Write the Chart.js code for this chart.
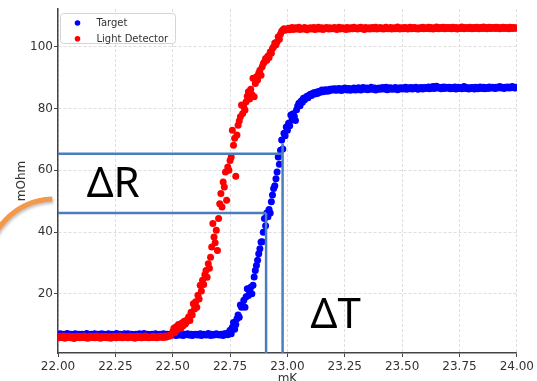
<!DOCTYPE html>
<html>
<head>
<meta charset="utf-8">
<script src="https://cdn.jsdelivr.net/npm/chart.js@4.4.1/dist/chart.umd.min.js"></script>
<style>
  html, body { margin: 0; padding: 0; background: #fff; }
  canvas { display: block; }
</style>
</head>
<body>
<canvas id="chart" width="537" height="381"></canvas>
<script>
// Temperature sweep: samples every 5 µK starting at 22.000 mK
const xStart = 22.0;
const xStep = 0.005;

const xTicks = [22.00, 22.25, 22.50, 22.75, 23.00, 23.25, 23.50, 23.75, 24.00];
const yTicks = [20, 40, 60, 80, 100];

// Target resistance (mOhm), one row per 0.1 mK
const target = [
  6.9, 6.6, 7.1, 6.8, 6.5, 7.0, 6.7, 6.9, 7.2, 6.6, 6.8, 7.0, 6.5, 6.9, 6.7, 7.1, 6.8, 6.6, 7.0, 6.9,
  6.7, 7.0, 6.8, 6.5, 6.9, 7.2, 6.7, 6.8, 6.6, 7.0, 6.9, 6.7, 7.1, 6.6, 6.8, 7.0, 6.5, 6.9, 7.1, 6.8,
  7.0, 6.7, 6.9, 6.6, 7.1, 6.8, 6.5, 7.0, 6.8, 6.9, 6.6, 7.2, 6.8, 6.7, 7.0, 6.9, 6.6, 6.8, 7.1, 6.7,
  6.8, 7.1, 6.6, 6.9, 7.0, 6.7, 6.8, 6.5, 7.0, 6.9, 6.7, 7.1, 6.8, 6.6, 6.9, 7.2, 6.7, 6.8, 7.0, 6.6,
  6.9, 6.7, 7.0, 6.8, 6.6, 7.1, 6.9, 6.7, 6.8, 7.0, 6.5, 6.9, 7.1, 6.8, 6.7, 7.0, 6.6, 6.9, 6.8, 7.1,
  6.7, 6.9, 7.0, 6.6, 6.8, 7.2, 6.7, 6.9, 6.8, 6.6, 7.0, 6.8, 6.9, 7.1, 6.7, 6.8, 7.0, 6.6, 6.9, 6.8,
  7.0, 6.8, 6.7, 6.9, 7.1, 6.6, 6.8, 7.0, 6.9, 6.7, 6.8, 7.2, 6.9, 6.6, 7.0, 6.8, 6.7, 6.9, 7.1, 6.8,
  6.9, 6.7, 7.0, 6.8, 6.6, 7.1, 6.9, 7.2, 6.8, 7.6, 8.3, 7.1, 9.2, 10.8, 8.6, 10.1, 12.0, 13.2, 12.5, 16.4,
  15.7, 16.3, 18.0, 15.7, 19.1, 21.7, 19.5, 21.0, 22.2, 20.1, 22.8, 25.5, 27.6, 29.2, 30.9, 33.0, 34.6, 36.8, 36.9, 40.0,
  44.4, 42.1, 46.2, 45.0, 47.3, 46.2, 49.8, 52.0, 54.1, 55.0, 57.3, 59.5, 64.3, 62.0, 66.5, 69.8, 66.9, 72.0, 71.2, 74.0,
  73.0, 75.2, 74.4, 77.9, 76.4, 78.3, 77.5, 76.1, 79.6, 80.8, 81.7, 80.9, 82.4, 82.0, 83.3, 82.8, 83.6, 84.0, 83.5, 84.3,
  84.6, 84.2, 84.9, 85.1, 84.7, 85.3, 84.9, 85.5, 85.2, 85.6, 86.0, 85.4, 85.8, 86.1, 85.6, 86.0, 85.7, 86.2, 85.9, 86.3,
  86.1, 86.4, 85.9, 86.3, 86.0, 86.5, 86.2, 85.8, 86.4, 86.1, 86.6, 86.2, 86.0, 86.5, 86.3, 85.9, 86.4, 86.2, 86.6, 86.0,
  86.4, 86.1, 86.7, 86.3, 86.0, 86.5, 86.8, 86.2, 86.4, 86.6, 86.1, 86.5, 86.3, 86.9, 86.2, 86.4, 86.6, 86.0, 86.5, 86.3,
  86.6, 86.2, 86.5, 86.8, 86.3, 86.4, 86.9, 86.1, 86.6, 86.4, 86.7, 86.2, 86.5, 86.3, 86.8, 86.5, 86.1, 86.6, 86.4, 86.7,
  86.3, 86.6, 86.4, 86.9, 86.2, 86.5, 86.7, 86.4, 86.8, 86.3, 86.6, 86.5, 86.9, 86.4, 86.2, 86.7, 86.5, 86.8, 86.3, 86.6,
  86.8, 86.5, 86.7, 87.0, 86.4, 86.9, 86.6, 87.1, 86.5, 86.8, 87.2, 86.6, 86.9, 86.7, 86.4, 86.8, 87.0, 86.5, 86.9, 86.7,
  86.6, 86.9, 86.4, 86.8, 86.5, 86.7, 87.0, 86.3, 86.6, 86.9, 86.5, 86.8, 86.4, 86.7, 87.1, 86.5, 86.8, 86.6, 86.3, 86.7,
  86.5, 86.8, 86.6, 86.3, 86.9, 86.7, 86.4, 86.8, 87.0, 86.5, 86.7, 86.9, 86.4, 86.6, 86.8, 86.5, 87.0, 86.7, 86.6, 86.9,
  86.7, 86.5, 86.9, 86.6, 86.8, 87.1, 86.6, 86.9, 86.7, 86.5, 86.9, 86.8, 87.0, 86.6, 86.9, 86.7, 87.1, 86.8, 86.6, 86.9,
  86.8
];

// Light detector resistance (mOhm), one row per 0.1 mK
const lightDetector = [
  6.1, 5.8, 6.3, 5.9, 6.0, 6.4, 5.7, 6.2, 5.9, 6.1, 6.3, 5.8, 6.0, 6.2, 5.6, 6.1, 5.9, 6.3, 6.0, 5.8,
  6.2, 5.9, 6.0, 6.4, 5.8, 6.1, 5.7, 6.0, 6.3, 5.9, 6.1, 6.2, 5.8, 6.0, 6.4, 5.9, 6.1, 5.7, 6.2, 6.0,
  5.9, 6.3, 6.0, 5.8, 6.2, 6.1, 5.7, 6.0, 6.3, 5.9, 6.2, 5.8, 6.1, 6.0, 6.4, 5.9, 5.8, 6.2, 6.0, 6.1,
  6.0, 5.8, 6.3, 6.1, 5.9, 6.2, 6.0, 5.7, 6.1, 6.3, 5.9, 6.0, 6.2, 5.8, 6.1, 6.0, 6.4, 5.9, 6.1, 5.8,
  6.1, 6.0, 5.9, 6.3, 6.0, 6.2, 5.8, 6.1, 6.0, 6.3, 6.2, 5.9, 6.1, 6.4, 6.0, 6.2, 6.5, 6.3, 6.6, 7.0,
  7.8, 8.9, 7.5, 9.4, 8.6, 10.1, 9.2, 8.8, 10.6, 9.7, 11.2, 10.3, 10.9, 11.8, 12.6, 11.4, 14.1, 13.2, 16.8, 15.1,
  17.5, 15.7, 19.6, 18.4, 22.8, 21.0, 24.4, 23.1, 26.2, 27.6, 25.4, 29.8, 28.3, 31.9, 35.2, 42.8, 38.4, 36.6, 40.6, 34.1,
  44.4, 49.2, 52.5, 48.1, 56.2, 54.6, 59.5, 50.3, 61.1, 60.0, 63.2, 64.3, 73.0, 68.1, 70.4, 58.1, 71.4, 74.6, 76.0, 77.3,
  81.1, 78.4, 80.6, 79.5, 82.2, 84.0, 85.4, 83.1, 86.2, 84.5, 89.8, 83.8, 88.1, 90.3, 89.2, 91.4, 92.4, 90.8, 93.5, 94.6,
  95.1, 96.2, 95.6, 97.0, 96.5, 98.3, 97.9, 99.4, 100.0, 101.2, 100.6, 101.6, 103.2, 102.4, 104.1, 105.0, 105.4, 105.8, 105.3, 105.6,
  105.7, 106.0, 105.5, 105.9, 106.2, 105.6, 105.8, 106.1, 105.7, 105.9, 106.3, 105.6, 105.9, 106.0, 105.7, 106.2, 105.8, 105.5, 106.0, 105.9,
  106.1, 105.7, 105.9, 106.2, 105.6, 106.0, 105.8, 106.3, 105.7, 105.9, 106.1, 105.6, 106.0, 105.8, 106.2, 105.9, 105.7, 106.1, 105.8, 106.0,
  105.8, 106.2, 105.9, 105.6, 106.0, 106.3, 105.7, 105.9, 106.1, 105.8, 106.0, 105.6, 106.2, 105.9, 105.7, 106.1, 106.0, 105.8, 106.3, 105.9,
  106.0, 105.7, 106.1, 105.9, 106.3, 105.8, 106.0, 105.6, 106.2, 105.9, 105.8, 106.1, 105.7, 106.0, 106.2, 105.8, 105.9, 106.3, 105.7, 106.0,
  105.9, 106.2, 105.8, 106.0, 105.7, 106.1, 106.3, 105.9, 105.8, 106.0, 106.2, 105.7, 105.9, 106.1, 105.8, 106.0, 106.4, 105.9, 105.7, 106.1,
  106.0, 105.8, 106.2, 105.9, 106.1, 105.7, 106.0, 106.3, 105.8, 106.1, 105.9, 106.2, 105.8, 106.0, 105.7, 106.1, 106.0, 105.9, 106.3, 105.8,
  106.1, 105.9, 106.0, 106.3, 105.8, 106.2, 106.0, 105.7, 106.1, 105.9, 106.4, 106.0, 105.8, 106.2, 106.1, 105.9, 106.3, 105.8, 106.0, 106.2,
  105.9, 106.2, 106.0, 105.8, 106.3, 106.1, 105.9, 106.2, 105.7, 106.0, 106.1, 105.9, 106.4, 106.0, 105.8, 106.2, 106.0, 106.1, 105.9, 106.3,
  106.0, 105.8, 106.2, 106.1, 105.9, 106.3, 106.0, 105.8, 106.2, 106.1, 105.9, 106.4, 106.0, 106.2, 105.8, 106.1, 106.3, 105.9, 106.0, 106.2,
  106.1, 105.9, 106.3, 106.0, 106.2, 105.8, 106.1, 106.0, 106.3, 105.9, 106.2, 106.0, 106.1, 105.8, 106.3, 106.1, 105.9, 106.2, 106.0, 106.1,
  106.0
];

// ΔR / ΔT construction: resistance levels, transition temperatures, tops of the drop lines
const deltaRLevels = [46.2, 65.4];
const deltaTTemps = [22.907, 22.979];
const deltaTTops = [46.2, 68.7];
// Anchors (data units) for the ΔR and ΔT labels
const deltaRLabelAt = { x: 22.125, y: 51.4 };
const deltaTLabelAt = { x: 23.101, y: 9.0 };

const toPoints = arr => arr.map((v, i) => ({ x: +(xStart + i * xStep).toFixed(3), y: v }));

const guideColor = '#4a7ebe';
const tickFont = { family: 'DejaVu Sans', size: 12 };

const overlay = {
  id: 'overlay',
  afterDatasetsDraw(chart) {
    const { ctx, chartArea: a } = chart;
    const x = chart.scales.x, y = chart.scales.y;
    ctx.save();
    ctx.strokeStyle = guideColor;
    ctx.lineWidth = 2.5;
    deltaRLevels.forEach((lvl, i) => {
      const py = y.getPixelForValue(lvl);
      ctx.beginPath();
      ctx.moveTo(a.left, py);
      ctx.lineTo(x.getPixelForValue(deltaTTemps[i]), py);
      ctx.stroke();
    });
    deltaTTemps.forEach((t, i) => {
      const px = x.getPixelForValue(t);
      ctx.beginPath();
      ctx.moveTo(px, y.getPixelForValue(deltaTTops[i]));
      ctx.lineTo(px, a.bottom);
      ctx.stroke();
    });
    ctx.fillStyle = '#000';
    ctx.font = '42px "Noto Sans"';
    ctx.textBaseline = 'alphabetic';
    ctx.textAlign = 'left';
    ctx.fillText('ΔR', x.getPixelForValue(deltaRLabelAt.x), y.getPixelForValue(deltaRLabelAt.y));
    ctx.fillText('ΔT', x.getPixelForValue(deltaTLabelAt.x), y.getPixelForValue(deltaTLabelAt.y));
    ctx.restore();
  },
  afterDraw(chart) {
    const { ctx, chartArea: a } = chart;
    ctx.save();

    // axis titles
    ctx.fillStyle = '#333';
    ctx.font = '12px "DejaVu Sans"';
    ctx.textAlign = 'center';
    ctx.textBaseline = 'alphabetic';
    ctx.fillText('mK', (a.left + a.right) / 2, a.bottom + 29);
    ctx.save();
    ctx.translate(a.left - 33, (a.top + a.bottom) / 2);
    ctx.rotate(-Math.PI / 2);
    ctx.fillText('mOhm', 0, 0);
    ctx.restore();

    // legend box
    const lx = a.left + 2, ly = a.top + 4, lw = 115, lh = 30;
    ctx.beginPath();
    ctx.roundRect(lx + 0.5, ly + 0.5, lw, lh, 3);
    ctx.fillStyle = 'rgba(255,255,255,0.85)';
    ctx.fill();
    ctx.strokeStyle = '#d4d4d4';
    ctx.lineWidth = 1;
    ctx.stroke();
    ctx.font = '10px "DejaVu Sans"';
    ctx.textAlign = 'left';
    ctx.textBaseline = 'middle';
    chart.data.datasets.forEach((ds, i) => {
      const cy = ly + 10 + i * 15.7;
      ctx.beginPath();
      ctx.arc(lx + 17.5, cy, 2.8, 0, Math.PI * 2);
      ctx.fillStyle = ds.backgroundColor;
      ctx.fill();
      ctx.fillStyle = '#333';
      ctx.fillText(ds.label, lx + 36.5, cy + 0.5);
    });

    // orange highlight arc in the left margin
    ctx.beginPath();
    ctx.arc(a.left - 3, 268, 69, Math.PI, 1.5 * Math.PI - 0.04);
    ctx.strokeStyle = '#f4994b';
    ctx.lineWidth = 5;
    ctx.shadowColor = 'rgba(0,0,0,0.25)';
    ctx.shadowBlur = 3;
    ctx.shadowOffsetX = 1;
    ctx.shadowOffsetY = 2;
    ctx.stroke();
    ctx.restore();
  }
};

new Chart(document.getElementById('chart'), {
  type: 'scatter',
  data: {
    datasets: [
      { label: 'Target', data: toPoints(target), backgroundColor: '#0000ff', borderWidth: 0, pointRadius: 3.5, order: 2 },
      { label: 'Light Detector', data: toPoints(lightDetector), backgroundColor: '#ff0000', borderWidth: 0, pointRadius: 3.5, order: 1 }
    ]
  },
  options: {
    responsive: false,
    animation: false,
    layout: { padding: { top: 9, right: 18, left: 0, bottom: 0 } },
    plugins: { legend: { display: false }, tooltip: { enabled: false } },
    scales: {
      x: {
        type: 'linear', min: 22, max: 24,
        afterBuildTicks: s => { s.ticks = xTicks.map(v => ({ value: v })); },
        afterFit: s => { s.height = 28; },
        grid: { color: '#d6d6d6', lineWidth: 0.8, tickColor: '#444', tickLength: 4, tickWidth: 1 },
        border: { display: true, color: '#444', width: 1.5, dash: [3, 2] },
        ticks: { color: '#333', font: tickFont, padding: 3, maxRotation: 0, autoSkip: false, callback: v => v.toFixed(2) }
      },
      y: {
        type: 'linear', min: 0.9, max: 112.2,
        afterBuildTicks: s => { s.ticks = yTicks.map(v => ({ value: v })); },
        afterFit: s => { s.width = 58; },
        grid: { color: '#d6d6d6', lineWidth: 0.8, tickColor: '#444', tickLength: 4, tickWidth: 1 },
        border: { display: true, color: '#444', width: 1.5, dash: [3, 2] },
        ticks: { color: '#333', font: tickFont, padding: 1, callback: v => String(v) }
      }
    }
  },
  plugins: [overlay]
});
</script>
</body>
</html>
